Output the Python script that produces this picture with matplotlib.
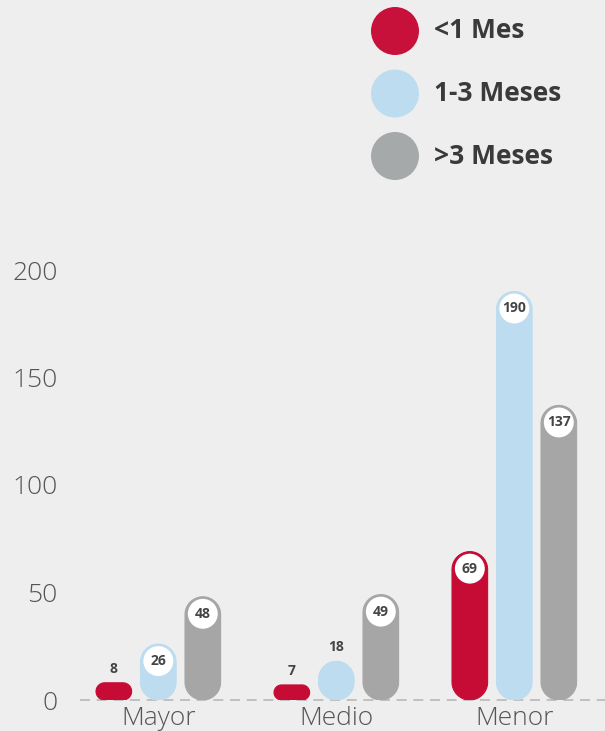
import numpy as np
import matplotlib.pyplot as plt
from matplotlib.patches import Polygon, Ellipse

categorias = ['Mayor', 'Medio', 'Menor']
series = ['<1 Mes', '1-3 Meses', '>3 Meses']
menos_1_mes = [8, 7, 69]
de_1_a_3_meses = [26, 18, 190]
mas_3_meses = [48, 49, 137]
valores = [menos_1_mes, de_1_a_3_meses, mas_3_meses]
cores = ['#c60b34', '#bedcef', '#a6a6a6']
cores_legenda = ['#c8113a', '#bedcef', '#a6a9aa']
yticks = [0, 50, 100, 150, 200]

plt.rcParams['font.family'] = ['Open Sans', 'DejaVu Sans']

W, H = 605, 731
fundo = '#eeeeee'
fig = plt.figure(figsize=(W / 100, H / 100), dpi=100, facecolor=fundo)
ax = fig.add_axes([80 / W, 31 / H, 525 / W, 430 / H])
ax.set_facecolor(fundo)

xmin, xmax = -0.44, -0.44 + 525 / 178
ax.set_xlim(xmin, xmax)
ax.set_ylim(0, 200)

# pixels por unidade, para cantos e circulos redondos
px_x = 525 / (xmax - xmin)
px_y = 430 / 200

largura = 0.2
desloc = 0.25
x = np.arange(len(categorias))


def barra_arredondada(xc, v, cor):
    # retangulo com cantos circulares (raio em pixels)
    w_px = largura * px_x
    h_px = v * px_y
    r = min(w_px / 2, h_px / 2)
    rx, ry = r / px_x, r / px_y
    x0, x1 = xc - largura / 2, xc + largura / 2
    cantos = [(x1 - rx, v - ry, 0, 90), (x0 + rx, v - ry, 90, 180),
              (x0 + rx, ry, 180, 270), (x1 - rx, ry, 270, 360)]
    pts = []
    for cx, cy, a0, a1 in cantos:
        t = np.radians(np.linspace(a0, a1, 24))
        pts += list(zip(cx + rx * np.cos(t), cy + ry * np.sin(t)))
    return Polygon(pts, closed=True, fc=cor, ec=cor, lw=0.8, zorder=2)


ax.axhline(0, color='#b8b8b8', lw=1.2, ls=(0, (6, 4)), zorder=0, clip_on=False)

for i, (vals, cor) in enumerate(zip(valores, cores)):
    for xc, v in zip(x + (i - 1) * desloc, vals):
        ax.add_patch(barra_arredondada(xc, v, cor))
        if v * px_y > 45:
            cy = v - 17 / px_y
            circ = Ellipse((xc, cy), 32 / px_x, 32 / px_y, fc='white', ec=cor,
                           lw=1.5, zorder=3, clip_on=False)
            ax.add_patch(circ)
            ax.text(xc, cy, str(v), ha='center', va='center', fontsize=10,
                    fontweight='bold', color='#444444', zorder=4)
        else:
            ax.text(xc, v + 14 / px_y, str(v), ha='center', va='center',
                    fontsize=10, fontweight='bold', color='#444444', zorder=4)

ax.set_xticks(x)
ax.set_xticklabels(categorias, fontsize=19, color='#555555', fontweight='light')
ax.set_yticks(yticks)
ax.set_yticklabels([str(t) for t in yticks], fontsize=19, color='#555555',
                   fontweight='light')
ax.tick_params(axis='x', length=0, pad=4)
ax.tick_params(axis='y', length=0, pad=16)
for s in ax.spines.values():
    s.set_visible(False)

# legenda com circulos grandes
for i, (nome, cor) in enumerate(zip(series, cores_legenda)):
    cy = 1 - (31 + i * 62.5) / H
    fig.add_artist(Ellipse((395 / W, cy), 48 / W, 48 / H, fc=cor, ec='none',
                           transform=fig.transFigure))
    fig.text(434 / W, cy, nome, ha='left', va='center', fontsize=19,
             fontweight='bold', color='#3a3a3a')

fig.savefig('out.png', dpi=100, facecolor=fundo)
